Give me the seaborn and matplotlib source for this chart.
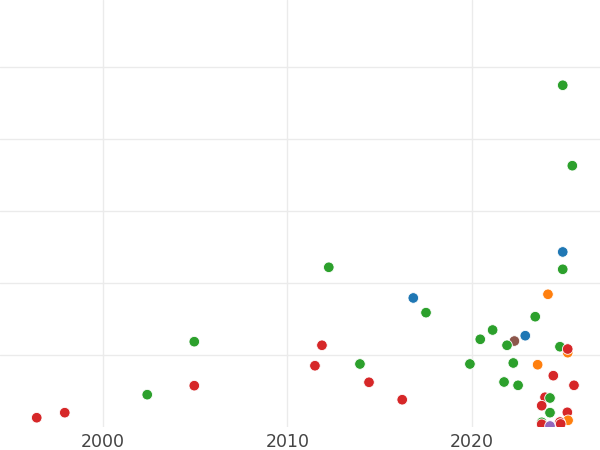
import pandas as pd
import matplotlib
matplotlib.use("Agg")
import matplotlib.pyplot as plt
import seaborn as sns

# punkty: rok, wartosc, grupa
lata = [1996.41, 1997.93, 2002.40, 2004.95, 2004.95,
        2024.92, 2025.44, 2024.92, 2024.92, 2012.24,
        2016.82, 2017.51, 2024.12, 2023.43, 2021.12,
        2020.45, 2022.89, 2022.30, 2021.90, 2024.77,
        2025.19, 2025.19, 2011.87, 2011.49, 2013.93,
        2014.42, 2016.22, 2019.89, 2022.24, 2023.56,
        2024.41, 2021.74, 2022.50, 2025.53, 2023.96,
        2024.23, 2023.78, 2024.23, 2025.17, 2025.21,
        2023.78, 2023.78, 2024.23, 2024.77, 2024.81]
wartosci = [1.29, 1.99, 4.49, 11.85, 5.74,
            47.46, 36.29, 24.31, 21.90, 22.18,
            17.92, 15.88, 18.43, 15.32, 13.47,
            12.18, 12.68, 11.94, 11.35, 11.15,
            10.32, 10.83, 11.35, 8.51, 8.75,
            6.21, 3.79, 8.75, 8.89, 8.65,
            7.13, 6.25, 5.79, 5.79, 4.13,
            4.03, 2.96, 1.99, 2.04, 0.93,
            0.65, 0.38, 0.14, 0.69, 0.42]
grupy = ["D", "D", "C", "C", "D",
         "C", "C", "A", "C", "C",
         "A", "C", "B", "C", "C",
         "C", "A", "F", "C", "C",
         "B", "D", "D", "D", "C",
         "D", "D", "C", "C", "B",
         "D", "C", "C", "D", "D",
         "C", "D", "C", "D", "B",
         "C", "D", "E", "D", "D"]
kolejnosc = ["A", "B", "C", "D", "E", "F"]
kolory = ["#1f77b4", "#ff7f0e", "#2ca02c", "#d62728", "#9467bd", "#8c564b"]

df = pd.DataFrame({"rok": lata, "wartosc": wartosci, "grupa": grupy})

sns.set_theme(style="whitegrid")
fig = plt.figure(figsize=(6, 4.5), dpi=100)
ax = fig.add_axes([0, 23 / 450, 1, 427 / 450])

sns.scatterplot(data=df, x="rok", y="wartosc", hue="grupa", hue_order=kolejnosc,
                palette=dict(zip(kolejnosc, kolory)), s=58, edgecolor="white",
                linewidth=0.6, legend=False, ax=ax, zorder=3)

ax.set_xlim(1994.42, 2026.94)
ax.set_ylim(0, 59.3)
ax.set_xticks([2000, 2010, 2020])
ax.set_yticks([10, 20, 30, 40, 50])
ax.set_yticklabels([])
ax.set_xlabel("")
ax.set_ylabel("")
ax.grid(True, color="#ebebeb", linewidth=1)
ax.tick_params(axis="x", labelsize=12.5, labelcolor="#444444", pad=4, length=0)
ax.tick_params(axis="y", length=0)
for sp in ax.spines.values():
    sp.set_visible(False)

fig.savefig("out.png", dpi=100)
